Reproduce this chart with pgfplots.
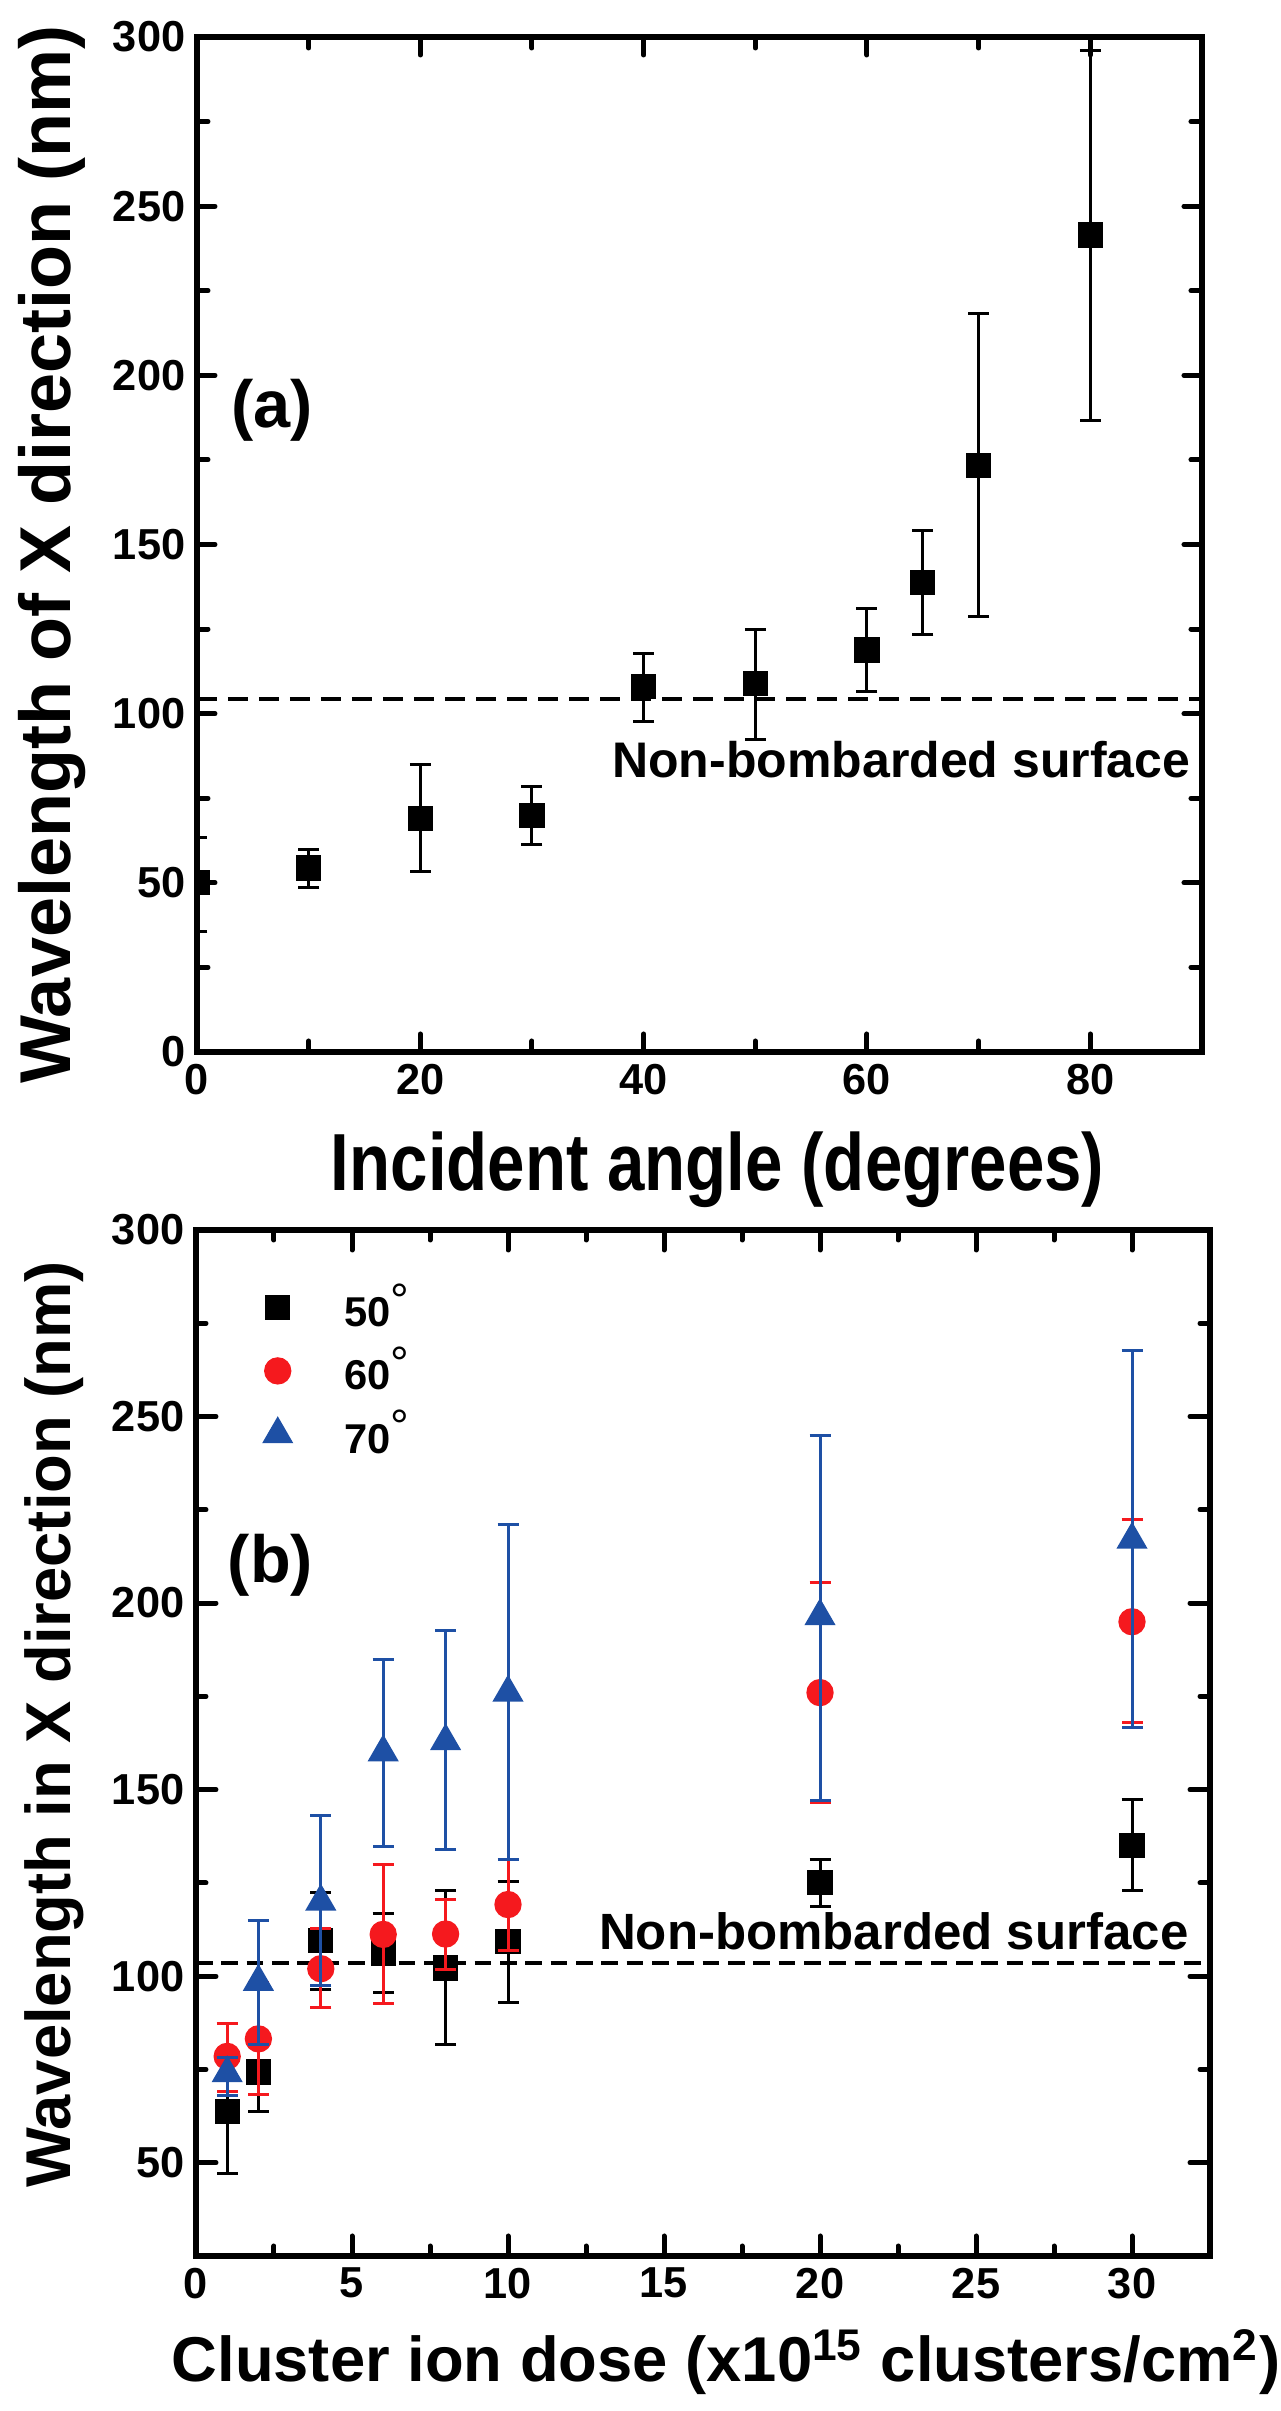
\documentclass[border=0pt]{standalone}
\usepackage{fontspec}
\setmainfont{Liberation Sans}
\newfontfamily\narrowfont{Liberation Sans}[FakeStretch=0.83]
\usepackage{pgfplots}
\usepackage{pgfplotstable}
\pgfplotsset{compat=1.18}
\definecolor{myred}{RGB}{245,25,30}
\definecolor{myblue}{RGB}{30,80,165}
\newcommand{\degsign}{\raisebox{0.25em}{\fontsize{14}{14}\selectfont\mdseries °}}

\pgfplotstableread{
x y ep em
0 50 13.5 14.5
10 54.4 5.4 5.8
20 69 16 15.6
30 69.8 8.6 8.5
40 108 9.9 10.2
50 109 15.9 16.6
60 118.8 12.2 12.4
65 138.8 15.4 15.3
70 173.3 45.1 44.6
80 241.5 54.6 54.9
}\dataA

\pgfplotstableread{
x y ep em
1 63.8 16.1 16.7
2 74.3 10.5 10.5
4 109.6 12.7 13.3
6 106.2 10.5 10.5
8 102.2 20.8 20.6
10 109.3 16.2 16.3
20 125.1 6.2 6.4
30 135 12.3 12
}\dataFifty

\pgfplotstableread{
x y ep em
1 78.5 8.9 9.5
2 83.2 15 14.8
4 102 10.7 10.3
6 111.2 18.6 18.6
8 111.3 9.3 9.6
10 119.2 12 12.2
20 176 29.6 29.4
30 195 27.5 27.1
}\dataSixty

\pgfplotstableread{
x y ep em
1 74 4.3 6
2 98.5 16.5 16.9
4 120 23.2 22.6
6 160 25 25.2
8 163 29.6 29.1
10 176 45 44.8
20 196.5 48.5 49.5
30 217 50.7 50.3
}\dataSeventy

\pgfplotsset{
  mystyle/.style={
    scale only axis, axis on top, clip marker paths=true,
    axis line style={line width=1.8pt},
    every tick/.style={line width=1.5pt, line cap=round, black},
    ticklabel style={font=\fontsize{13}{13}\selectfont\bfseries},
    /pgf/number format/assume math mode=true,
    tick align=inside,
  },
  errstyle/.style={
    error bars/.cd, y dir=both, y explicit,
    error bar style={line width=0.9pt},
    error mark=-,
    error mark options={rotate=90, line width=0.9pt, mark size=3.15pt},
  },
}

\begin{document}
\begin{tikzpicture}
\useasboundingbox (0,0) rectangle (384pt,723.3pt);

\begin{axis}[mystyle,
  at={(59.1pt,407.7pt)}, anchor=south west,
  width=301.5pt, height=304.5pt,
  xmin=0, xmax=90, ymin=0, ymax=300,
  xtick={0,20,...,80}, minor xtick={10,30,50,70},
  ytick={0,50,...,300}, minor ytick={25,75,...,275},
  major tick length=5.4pt, minor tick length=3.3pt,
  xlabel={Incident angle (degrees)},
  ylabel={Wavelength of X direction (nm)},
  xlabel style={at={(axis description cs:0.518,-0.136)}, anchor=base, inner sep=0pt,
    font=\narrowfont\bfseries\fontsize{24.3}{28}\selectfont},
  ylabel style={at={(axis description cs:-0.1254,0.490)}, anchor=base, inner sep=0pt,
    font=\bfseries\fontsize{21.6}{26}\selectfont},
]
\addplot[black, line width=1.3pt, dash pattern=on 6pt off 3.3pt, forget plot] coordinates {(0,104.3) (90,104.3)};
\addplot[only marks, mark=square*, mark size=3.6pt, black, errstyle]
  table[x=x, y=y, y error plus=ep, y error minus=em] {\dataA};
\node[anchor=base east, inner sep=0pt, font=\bfseries\fontsize{15}{15}\selectfont] at (axis cs:89.0,81) {Non-bombarded surface};
\node[anchor=base west, inner sep=0pt, font=\bfseries\fontsize{20}{20}\selectfont] at (axis cs:3.0,184.7) {(a)};
\end{axis}

\begin{axis}[mystyle,
  at={(58.8pt,46.5pt)}, anchor=south west,
  width=304.2pt, height=307.8pt,
  xmin=0, xmax=32.5, ymin=25, ymax=300,
  xtick={0,5,...,30}, minor xtick={2.5,7.5,...,27.5},
  ytick={50,100,...,300}, minor ytick={75,125,...,275},
  major tick length=6pt, minor tick length=3pt,
  xlabel={Cluster ion dose (x10\textsuperscript{15} clusters/cm\textsuperscript{2})},
  ylabel={Wavelength in X direction (nm)},
  xlabel style={at={(axis description cs:0.5227,-0.1225)}, anchor=base, inner sep=0pt,
    font=\bfseries\fontsize{19}{23}\selectfont},
  ylabel style={at={(axis description cs:-0.124,0.518)}, anchor=base, inner sep=0pt,
    font=\bfseries\fontsize{19}{23}\selectfont},
  legend image code/.code={\draw[#1] plot coordinates {(0pt,0pt)}; \path[draw=none, fill=none] (-5pt,-9.5pt) rectangle (20pt,9.5pt);},
  legend cell align=left,
  legend style={at={(axis cs:2.086,287.7)}, anchor=north west, draw=none, fill=none,
    inner sep=0pt, outer sep=0pt, row sep=0pt,
    nodes={inner sep=0pt, anchor=west},
    font=\bfseries\fontsize{12.5}{12.5}\selectfont},
]
\addplot[black, line width=1.2pt, dash pattern=on 5pt off 2.6pt, forget plot] coordinates {(0,103.5) (32.5,103.5)};
\addplot[only marks, mark=square*, mark size=3.6pt, black, errstyle]
  table[x=x, y=y, y error plus=ep, y error minus=em] {\dataFifty};
\addlegendentry{50\degsign}
\addplot[only marks, mark=*, mark size=3.9pt, myred, errstyle]
  table[x=x, y=y, y error plus=ep, y error minus=em] {\dataSixty};
\addlegendentry{60\degsign}
\addplot[only marks, mark=triangle*, mark size=5pt, myblue, errstyle]
  table[x=x, y=y, y error plus=ep, y error minus=em] {\dataSeventy};
\addlegendentry{70\degsign}
\node[anchor=base east, inner sep=0pt, font=\bfseries\fontsize{15.3}{15.3}\selectfont] at (axis cs:31.83,107.1) {Non-bombarded surface};
\node[anchor=base west, inner sep=0pt, font=\bfseries\fontsize{20}{20}\selectfont] at (axis cs:1.0,205.4) {(b)};
\end{axis}
\end{tikzpicture}
\end{document}
